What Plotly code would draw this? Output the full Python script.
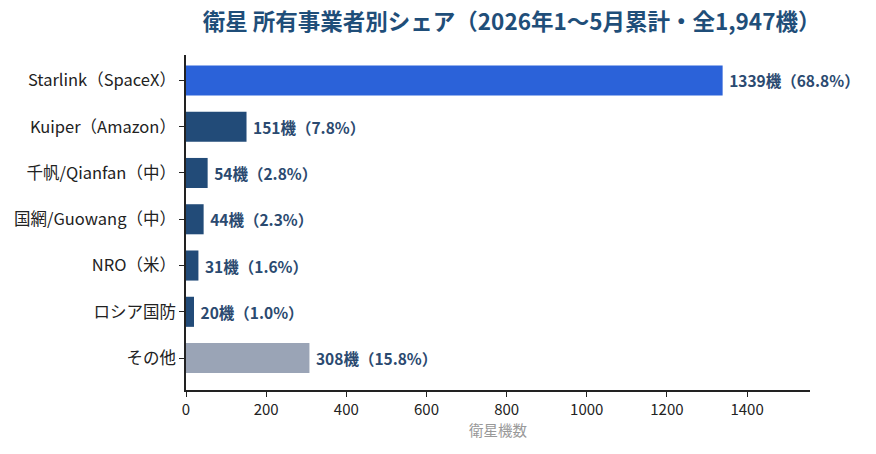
import plotly.graph_objects as go

categories = ["Starlink（SpaceX）", "Kuiper（Amazon）", "千帆/Qianfan（中）", "国網/Guowang（中）", "NRO（米）", "ロシア国防", "その他"]
values = [1339, 151, 54, 44, 31, 20, 308]
shares = [68.8, 7.8, 2.8, 2.3, 1.6, 1.0, 15.8]
colors = ["#2b62d9", "#224b78", "#224b78", "#224b78", "#224b78", "#224b78", "#9aa4b6"]
labels = [f"\u00a0{v}機（{s:.1f}%）" for v, s in zip(values, shares)]

font = "Noto Sans CJK JP"

fig = go.Figure(go.Bar(
    x=values, y=categories, orientation="h",
    marker=dict(color=colors, line=dict(width=0)),
    width=0.65,
    text=labels, textposition="outside", cliponaxis=False,
    textfont=dict(family=font, size=15.5, color="#2b4a70", weight="bold"),
))

fig.update_layout(
    width=876, height=454,
    margin=dict(l=186, r=66, t=55, b=64),
    paper_bgcolor="white", plot_bgcolor="white",
    font=dict(family=font, size=15, color="#222"),
    title=dict(text="<b>衛星 所有事業者別シェア（2026年1〜5月累計・全1,947機）</b>",
               x=0.584, xanchor="center", y=0.952, yanchor="middle",
               font=dict(family=font, size=22.5, color="#1f4e79")),
    showlegend=False,
)
fig.update_xaxes(
    range=[0, 1557], showgrid=False, zeroline=False,
    showline=True, linecolor="#222", linewidth=1.5,
    ticks="outside", ticklen=5, tickcolor="#222",
    tickvals=[0, 200, 400, 600, 800, 1000, 1200, 1400],
    tickfont=dict(family=font, size=15, color="#222"),
    title=dict(text="衛星機数", font=dict(family=font, size=14.5, color="#999"), standoff=8),
)
fig.update_yaxes(
    categoryorder="array", categoryarray=categories,
    range=[6.69, -0.55], showgrid=False, zeroline=False,
    showline=True, linecolor="#222", linewidth=1.5,
    ticks="outside", ticklen=5, tickcolor="#222",
    tickfont=dict(family=font, size=16.5, color="#222"),
)

fig.write_html("out.html")
